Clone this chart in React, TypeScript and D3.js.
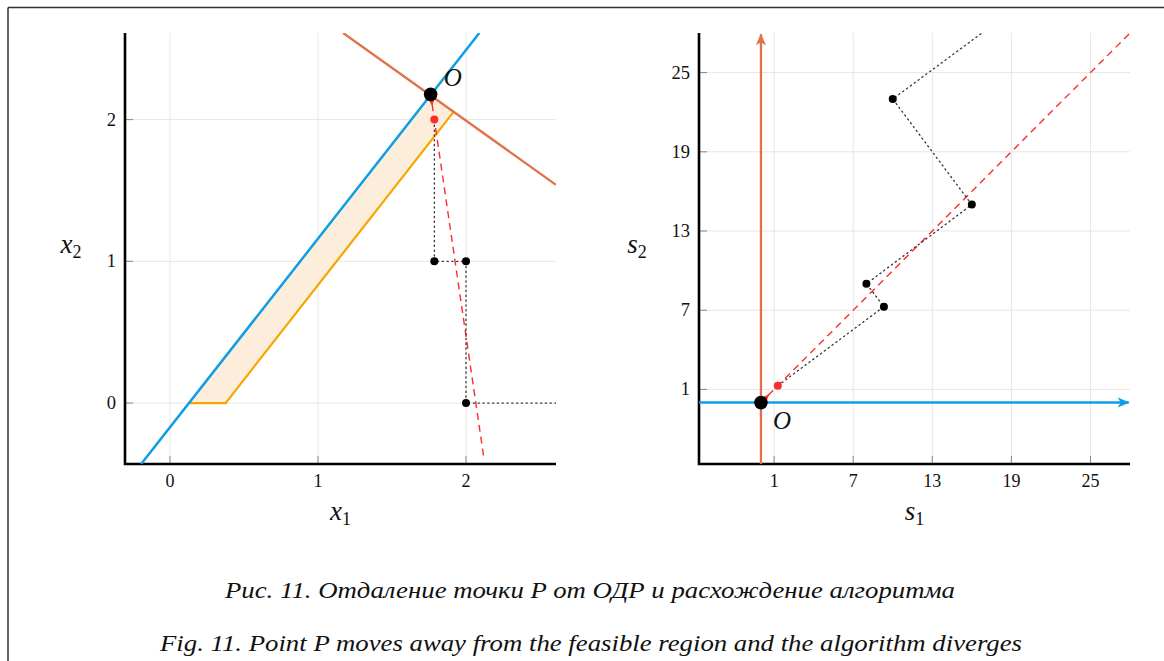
import React from "react";
import * as d3 from "d3";

type Pt = [number, number];

// left panel: original variables x1, x2
const leftXTicks = [0, 1, 2];
const leftYTicks = [0, 1, 2];
const leftBlueLine: Pt[] = [[-0.195, -0.43], [2.09, 2.611]];
const leftBrownLine: Pt[] = [[1.17, 2.611], [2.608, 1.54]];
const leftRegion: Pt[] = [[0.13, 0], [0.376, 0], [1.92, 2.06], [1.761, 2.178]];
const leftOrangeEdge: Pt[] = [[0.13, 0], [0.376, 0], [1.92, 2.06]];
const leftOptimum: Pt = [1.761, 2.178];
const leftStart: Pt = [1.786, 2.0];
const leftDirection: Pt[] = [[1.761, 2.178], [2.121, -0.39]];
const leftIterates: Pt[] = [[1.786, 1], [2, 1], [2, 0]];
const leftPath: Pt[] = [[1.786, 1.96], [1.786, 1], [2, 1], [2, 0], [2.608, 0]];

// right panel: slack variables s1, s2
const rightTicks = [1, 7, 13, 19, 25];
const rightBrownLine: Pt[] = [[0, -4.65], [0, 27.9]];
const rightBlueLine: Pt[] = [[-4.7, 0], [27.9, 0]];
const rightOptimum: Pt = [0, 0];
const rightStart: Pt = [1.28, 1.28];
const rightDirection: Pt[] = [[0, 0], [28, 28]];
const rightIterates: Pt[] = [[9.33, 7.27], [8, 9], [16, 15], [10, 23]];
const rightPath: Pt[] = [[1.6, 1.52], [9.33, 7.27], [8, 9], [16, 15], [10, 23], [16.77, 28]];

const captions = [
  "Рис. 11. Отдаление точки P от ОДР и расхождение алгоритма",
  "Fig. 11. Point P moves away from the feasible region and the algorithm diverges",
];

const BLUE = "#0f9de6";
const BROWN = "#e0714a";
const ORANGE = "#f7a600";
const FILL = "#fdeedb";
const RED = "#ff2a2a";
const GRID = "#e6e6e6";
const SERIF = "Liberation Serif";

const box = { top: 33, bottom: 464, size: 431 };

const txt = (size: number, italic = false): React.CSSProperties => ({
  fontFamily: SERIF,
  fontSize: size,
  fontStyle: italic ? "italic" : "normal",
});

function Frame({ x, y, xTicks, yTicks, label }: any) {
  const [x0, x1] = x.range();
  const [y0, y1] = y.range();
  return (
    <g>
      {xTicks.map((t: number) => (
        <line key={"gx" + t} x1={x(t)} x2={x(t)} y1={y1} y2={y0} stroke={GRID} strokeWidth={1} />
      ))}
      {yTicks.map((t: number) => (
        <line key={"gy" + t} x1={x0} x2={x1} y1={y(t)} y2={y(t)} stroke={GRID} strokeWidth={1} />
      ))}
      {xTicks.map((t: number) => (
        <g key={"tx" + t}>
          <line x1={x(t)} x2={x(t)} y1={y0} y2={y0 - 8} stroke="#888" strokeWidth={1} />
          <text x={x(t)} y={y0 + 23} textAnchor="middle" style={txt(18)} fill="#111">
            {t}
          </text>
        </g>
      ))}
      {yTicks.map((t: number) => (
        <g key={"ty" + t}>
          <line x1={x0} x2={x0 + 8} y1={y(t)} y2={y(t)} stroke="#888" strokeWidth={1} />
          <text x={x0 - 9} y={y(t) + 6} textAnchor="end" style={txt(18.5)} fill="#111">
            {t}
          </text>
        </g>
      ))}
      <path d={`M${x0},${y1}V${y0}H${x1}`} fill="none" stroke="#000" strokeWidth={2.6} />
      <text x={(x0 + x1) / 2} y={y0 + 56} textAnchor="middle" style={txt(27, true)} fill="#111">
        {label[0]}
        <tspan style={txt(18)} dy={5}>{label[1]}</tspan>
      </text>
      <text x={label[4]} y={(y0 + y1) / 2 + 4} textAnchor="middle" style={txt(27, true)} fill="#111">
        {label[2]}
        <tspan style={txt(18)} dy={5}>{label[3]}</tspan>
      </text>
    </g>
  );
}

function Dotted({ line, pts }: any) {
  return <path d={line(pts)} fill="none" stroke="#333" strokeWidth={1.3} strokeDasharray="1.2 3.6" strokeLinecap="round" />;
}

function DirectionWedge({ x, y, from, to }: any) {
  // small red wedge at the optimum, pointing along the direction line
  const ax = x(from[0]), ay = y(from[1]);
  const bx = x(to[0]), by = y(to[1]);
  const ang = (Math.atan2(by - ay, bx - ax) * 180) / Math.PI;
  return (
    <path d="M4,-3.2 L12,0 L4,3.2 Z" fill={RED} transform={`translate(${ax},${ay}) rotate(${ang})`} />
  );
}

export default function App() {
  const lx = d3.scaleLinear().domain([-0.304, 2.608]).range([125, 556]);
  const ly = d3.scaleLinear().domain([-0.43, 2.611]).range([box.bottom, box.top]);
  const rx = d3.scaleLinear().domain([-4.7, 28]).range([699, 1130]);
  const ry = d3.scaleLinear().domain([-4.65, 28]).range([box.bottom, box.top]);

  const lLine = d3.line<Pt>().x((d) => lx(d[0])).y((d) => ly(d[1]));
  const rLine = d3.line<Pt>().x((d) => rx(d[0])).y((d) => ry(d[1]));

  return (
    <svg width={1164} height={661} style={{ position: "absolute", left: 0, top: 0, background: "#fff" }}>
      <defs>
        <clipPath id="clipL">
          <rect x={125} y={box.top} width={box.size} height={box.size} />
        </clipPath>
        <clipPath id="clipR">
          <rect x={699} y={box.top} width={box.size} height={box.size} />
        </clipPath>
        <marker id="arrBrown" viewBox="-12 -6 14 12" refX={0} refY={0} markerWidth={14} markerHeight={12} markerUnits="userSpaceOnUse" orient="auto">
          <path d="M1,0 L-11,-5 L-8,0 L-11,5 Z" fill={BROWN} />
        </marker>
        <marker id="arrBlue" viewBox="-12 -6 14 12" refX={0} refY={0} markerWidth={14} markerHeight={12} markerUnits="userSpaceOnUse" orient="auto">
          <path d="M1,0 L-11,-5 L-8,0 L-11,5 Z" fill={BLUE} />
        </marker>
      </defs>

      <path d="M8,7.5 H1164 M8,7.5 V661" fill="none" stroke="#333" strokeWidth={1.5} />

      {/* left panel */}
      <Frame x={lx} y={ly} xTicks={leftXTicks} yTicks={leftYTicks} label={["x", "1", "x", "2", 71]} />
      <g clipPath="url(#clipL)">
        <path d={lLine(leftRegion) + "Z"} fill={FILL} />
        <path d={lLine(leftOrangeEdge)!} fill="none" stroke={ORANGE} strokeWidth={2.2} />
        <path d={lLine(leftBlueLine)!} fill="none" stroke={BLUE} strokeWidth={2.5} />
        <path d={lLine(leftBrownLine)!} fill="none" stroke={BROWN} strokeWidth={2.3} />
        <path d={lLine(leftDirection)!} fill="none" stroke={RED} strokeWidth={1.4} strokeDasharray="7 5" strokeDashoffset={-10} />
        <Dotted line={lLine} pts={leftPath} />
        {leftIterates.map((p, i) => (
          <circle key={i} cx={lx(p[0])} cy={ly(p[1])} r={4} fill="#000" />
        ))}
        <DirectionWedge x={lx} y={ly} from={leftDirection[0]} to={leftDirection[1]} />
        <circle cx={lx(leftStart[0])} cy={ly(leftStart[1])} r={4} fill={RED} />
        <circle cx={lx(leftOptimum[0])} cy={ly(leftOptimum[1])} r={6.8} fill="#000" />
      </g>
      <text x={lx(leftOptimum[0]) + 13} y={ly(leftOptimum[1]) - 8} style={txt(25, true)} fill="#111">
        O
      </text>

      {/* right panel */}
      <Frame x={rx} y={ry} xTicks={rightTicks} yTicks={rightTicks} label={["s", "1", "s", "2", 637]} />
      <g clipPath="url(#clipR)">
        <path d={rLine(rightDirection)!} fill="none" stroke={RED} strokeWidth={1.4} strokeDasharray="7 5" strokeDashoffset={-10} />
        <Dotted line={rLine} pts={rightPath} />
        {rightIterates.map((p, i) => (
          <circle key={i} cx={rx(p[0])} cy={ry(p[1])} r={4} fill="#000" />
        ))}
      </g>
      <path d={rLine(rightBrownLine)!} fill="none" stroke={BROWN} strokeWidth={2.3} markerEnd="url(#arrBrown)" />
      <path d={rLine(rightBlueLine)!} fill="none" stroke={BLUE} strokeWidth={2.5} markerEnd="url(#arrBlue)" />
      <DirectionWedge x={rx} y={ry} from={rightDirection[0]} to={rightDirection[1]} />
      <circle cx={rx(rightStart[0])} cy={ry(rightStart[1])} r={4} fill={RED} />
      <circle cx={rx(rightOptimum[0])} cy={ry(rightOptimum[1])} r={6.8} fill="#000" />
      <text x={rx(rightOptimum[0]) + 12} y={ry(rightOptimum[1]) + 26} style={txt(25, true)} fill="#111">
        O
      </text>

      {/* caption: the source text is set a little wider than the font's own metrics */}
      <text x={225} y={597.5} textLength={730} lengthAdjust="spacingAndGlyphs" style={txt(23, true)} fill="#111">
        {captions[0]}
      </text>
      <text x={160} y={651} textLength={862} lengthAdjust="spacingAndGlyphs" style={txt(23, true)} fill="#111">
        {captions[1]}
      </text>
    </svg>
  );
}
